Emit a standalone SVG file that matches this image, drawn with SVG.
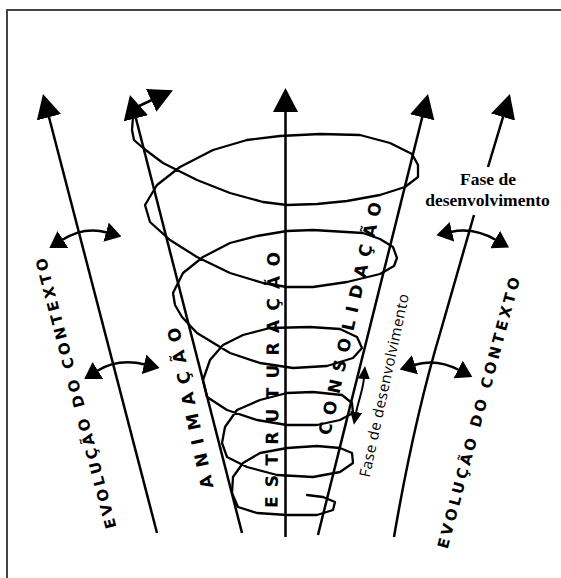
<svg xmlns="http://www.w3.org/2000/svg" width="561" height="578" viewBox="0 0 561 578">
<style>
.ln{fill:none;stroke:#000;stroke-width:2.5;stroke-linecap:butt;stroke-linejoin:round}
.sp{fill:none;stroke:#000;stroke-width:2.3;stroke-linejoin:round;stroke-linecap:round}
.cap{font-family:"DejaVu Sans","Liberation Sans",sans-serif;font-weight:bold;fill:#000}
.thin{font-family:"Open Sans","DejaVu Sans",sans-serif;font-weight:normal;font-size:15px;fill:#000}
.ser{font-family:"Liberation Serif","DejaVu Serif",serif;font-size:17.5px;font-weight:bold;fill:#000;text-anchor:middle}
</style>
<defs>
<marker id="big" viewBox="0 -13 24 26" refX="2" refY="0" markerWidth="24" markerHeight="26" markerUnits="userSpaceOnUse" orient="auto">
<path d="M0,-12.5 L24,0 L0,12.5 Z" fill="#000"/>
</marker>
<marker id="mid" viewBox="0 -10 16 20" refX="1" refY="0" markerWidth="16" markerHeight="20" markerUnits="userSpaceOnUse" orient="auto-start-reverse">
<path d="M0,-10 L16,0 L0,10 Z" fill="#000"/>
</marker>
<marker id="sm" viewBox="0 -6 13 12" refX="1" refY="0" markerWidth="13" markerHeight="12" markerUnits="userSpaceOnUse" orient="auto-start-reverse">
<path d="M0,-6 L13,0 L0,6 Z" fill="#000"/>
</marker>
</defs>
<rect id="frame" x="7" y="10" width="620" height="620" fill="#fff" stroke="#444" stroke-width="2"/>
<g id="spiral">
<polyline class="sp" points="133,117 132,130 134,140 143,148 163,163 197,180 230,193 263,202 287,205 317,204 347,201 380,195 405,187 418,177 418,165 412,154 390,143 360,135 320,134 280,136 247,140 213,150 180,167 157,185 145,205 150,222 170,240 197,257 230,273 263,283 287,287 313,287 347,282 380,274 394,266 397,258 393,247 380,239 363,233 313,230 287,231 257,236 230,243 203,257 183,273 173,293 175,305 182,317 197,333 230,353 260,363 293,368 327,366 353,358 362,348 357,337 340,329 310,327 270,328 243,335 223,345 210,360 203,380 207,397 227,410 257,420 287,425 317,425 340,420 353,413 352,403 342,395 313,392 287,393 260,400 237,410 225,427 222,443 227,457 247,467 277,475 313,477 340,472 353,463 352,453 340,448 317,446 287,448 260,453 243,463 233,477 232,493 238,507 257,513 287,515 317,515 333,510 335,502 323,497 307,495"/>
</g>
<g id="connectors">
<path id="axis-contexto-esq" class="ln" d="M157,533 L48.5,115.3" marker-end="url(#big)"/>
<path id="axis-animacao" class="ln" d="M242,533 L135.4,116.3" marker-end="url(#big)"/>
<path id="axis-estruturacao" class="ln" d="M285.5,537 L285.5,110" marker-end="url(#big)"/>
<path id="axis-consolidacao" class="ln" d="M318,535 L422.7,115.3" marker-end="url(#big)"/>
<path id="axis-contexto-dir-top" class="ln" d="M488,167 L503.6,115.1" marker-end="url(#big)"/>
<path id="axis-contexto-dir" class="ln" d="M474,215 L441,330 Q414,420 394,537"/>
<path id="link-top" class="ln" d="M139,106 L153,99.5" marker-end="url(#big)"/>
<path id="link-left-1" class="ln" d="M62,240 Q84,226 107,232.5" marker-start="url(#mid)" marker-end="url(#mid)"/>
<path id="link-left-2" class="ln" d="M97,371 Q118,358 145,364.5" marker-start="url(#mid)" marker-end="url(#mid)"/>
<path id="link-right-1" class="ln" d="M451,232 Q473,227 496,240" marker-start="url(#mid)" marker-end="url(#mid)"/>
<path id="link-right-2" class="ln" d="M414,365 Q436,358 459,370" marker-start="url(#mid)" marker-end="url(#mid)"/>
<path id="link-fase" class="ln" style="stroke-width:2" d="M364,378 C363,390 358,402 356,413" marker-start="url(#sm)" marker-end="url(#sm)"/>
</g>
<g id="label-contexto-esq">
<text class="cap" font-size="15" transform="translate(116.5,527) rotate(-104.7)" textLength="279" lengthAdjust="spacing">EVOLUÇÃO DO CONTEXTO</text>
</g>
<g id="label-animacao">
<text class="cap" font-size="17" transform="translate(213.5,487) rotate(-102.2)" textLength="164" lengthAdjust="spacing">ANIMAÇÃO</text>
</g>
<g id="label-estruturacao">
<text class="cap" font-size="17" transform="translate(277.5,508) rotate(-89.5)" textLength="256" lengthAdjust="spacing">ESTRUTURAÇÃO</text>
</g>
<g id="label-consolidacao">
<text class="cap" font-size="17" transform="translate(330,436) rotate(-77.4)" textLength="238" lengthAdjust="spacing">CONSOLIDAÇÃO</text>
</g>
<g id="label-contexto-dir">
<text class="cap" font-size="15" transform="translate(447.5,549.5) rotate(-75)" textLength="280" lengthAdjust="spacing">EVOLUÇÃO DO CONTEXTO</text>
</g>
<g id="label-fase-rot">
<text class="thin" transform="translate(369.5,478) rotate(-77.8)" textLength="187" lengthAdjust="spacing">Fase de desenvolvimento</text>
</g>
<g id="label-fase">
<text class="ser" x="488" y="185">Fase de</text>
<text class="ser" x="487.5" y="206">desenvolvimento</text>
</g>
</svg>
